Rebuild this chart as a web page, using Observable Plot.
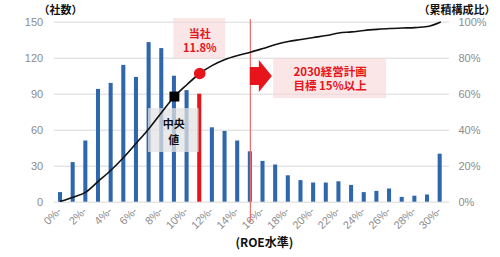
<!DOCTYPE html>
<html><head><meta charset="utf-8">
<script src="https://cdn.jsdelivr.net/npm/d3@7"></script>
<script src="https://cdn.jsdelivr.net/npm/@observablehq/plot@0.6"></script>
<style>
html,body{margin:0;padding:0;background:#fff;overflow:hidden}
svg{display:block}
</style></head><body><div id="chart"></div>
<script>
// ---- data ----
const categories = ["0%-","1%-","2%-","3%-","4%-","5%-","6%-","7%-","8%-","9%-","10%-","11%-","12%-","13%-","14%-","15%-","16%-","17%-","18%-","19%-","20%-","21%-","22%-","23%-","24%-","25%-","26%-","27%-","28%-","29%-","30%-"];
const counts = [8,33,51,94,99,114,104,133,128,105,93,90,62,59,51,42,34,31,22,18,16,16,17,14,8,9,11,4,5,6,40];
const cumulativePct = [0.5,2.8,5.6,11.7,17.9,25,32.9,41,50,58.7,65.4,71.5,76,79.3,81.5,83.3,85.4,87.6,89.3,90.4,91.5,92.6,94,94.6,95.4,96,96.5,96.8,97,97.6,100];
const leftTicks = [0,30,60,90,120,150];
const rightTicks = [0,20,40,60,80,100];
const xTickCategories = ["0%-","2%-","4%-","6%-","8%-","10%-","12%-","14%-","16%-","18%-","20%-","22%-","24%-","26%-","28%-","30%-"];
const highlightCategory = "11%-";   // 当社 11.8%
const medianCategory = "9%-";
const targetCategory = "15%-";
const companyLabel = ["当社","11.8%"];
const targetLabel = ["2030経営計画","目標 15%以上"];
const medianLabel = ["中央","値"];
const leftTitle = "（社数）";
const rightTitle = "（累積構成比）";
const xTitle = "(ROE水準)";

// ---- chart ----
const blue = "#2f67ad", red = "#e8141b";
const idx = d3.range(categories.length);
const hi = categories.indexOf(highlightCategory);
const med = categories.indexOf(medianCategory);
const tgt = categories.indexOf(targetCategory);
const k = 150 / 100; // percent -> left axis units
const cjk = "'Noto Sans CJK JP', sans-serif";

const arrow = (index, scales) => {
  const x0 = scales.x(tgt), yc = scales.y(104.75);
  const p = `M${x0},${yc-9}L${x0+9},${yc-9}L${x0+9},${yc-16}L${x0+22},${yc}L${x0+9},${yc+16}L${x0+9},${yc+9}L${x0},${yc+9}Z`;
  return d3.create("svg:path").attr("d", p).attr("fill", red).node();
};

const chart = Plot.plot({
  width: 500, height: 257,
  marginLeft: 53.7, marginRight: 54, marginTop: 21.7, marginBottom: 55.3,
  style: {fontFamily: "'Liberation Sans', Arial, sans-serif", fontSize: "11px", background: "white", overflow: "visible"},
  x: {domain: [-0.5, categories.length - 0.5]},
  y: {domain: [0, 150]},
  marks: [
    Plot.ruleY(leftTicks, {stroke: "#d9d9d9", strokeWidth: 1, insetRight: -3}),
    Plot.axisY(leftTicks, {anchor: "left", tickSize: 0, tickPadding: 11, fill: "#8c8c8c", fontSize: 11, label: null}),
    Plot.axisY(leftTicks, {anchor: "right", tickSize: 0, tickPadding: 12, fill: "#8c8c8c", fontSize: 11, label: null, tickFormat: d => Math.round(d / k) + "%"}),
    Plot.axisX(xTickCategories.map(c => categories.indexOf(c)), {tickSize: 0, tickPadding: 3, dy: 4, dx: -1, tickRotate: -45, fill: "#8c8c8c", fontSize: 11, label: null, tickFormat: i => categories[i]}),
    Plot.rect(idx.filter(i => i !== hi), {x1: i => i - 0.16, x2: i => i + 0.16, y1: 0, y2: i => counts[i], fill: blue}),
    Plot.rect([hi], {x1: i => i - 0.16, x2: i => i + 0.16, y1: 0, y2: i => counts[i], fill: red}),
    Plot.ruleX([tgt], {y1: -17, y2: 152, stroke: "#f06a6a", strokeWidth: 1.2}),
    // annotation boxes
    Plot.rect([hi], {x1: i => i - 2.05, x2: i => i + 2.05, y1: 119.7, y2: 153, fill: "#f7d6d6", fillOpacity: 0.6}),
    Plot.rect([tgt], {x1: i => i + 1.84, x2: i => i + 10.77, y1: 86.4, y2: 119.75, fill: "#f7d6d6", fillOpacity: 0.6}),
    Plot.rect([med], {x1: i => i - 2.05, x2: i => i + 1.95, y1: 41.4, y2: 78, fill: "#e3e3e3", fillOpacity: 0.75}),
    arrow,
    Plot.line(idx, {x: i => i, y: i => cumulativePct[i] * k, stroke: "#111", strokeWidth: 1.6, curve: "monotone-x"}),
    Plot.dot([med], {x: i => i, y: i => cumulativePct[i] * k, symbol: "square", r: 5.6, fill: "#000"}),
    Plot.dot([hi], {x: i => i, y: i => cumulativePct[i] * k, r: 5.8, fill: red}),
    Plot.text([hi], {x: i => i, y: 135, text: () => companyLabel.join("\n"), fill: red, fontWeight: "bold", fontSize: 11, lineHeight: 1.36, fontFamily: cjk}),
    Plot.text([tgt], {x: i => i + 6.3, y: 103, text: () => targetLabel.join("\n"), fill: red, fontWeight: "bold", fontSize: 11.5, lineHeight: 1.25, fontFamily: cjk}),
    Plot.text([med], {x: i => i - 0.05, y: 59.75, text: () => medianLabel.join("\n"), fill: "#111", fontWeight: "bold", fontSize: 11, lineHeight: 1.45, fontFamily: cjk}),
    // titles
    Plot.text([leftTitle], {frameAnchor: "top-left", dx: -15.7, dy: -16.2, text: d => d, fontWeight: "bold", fontSize: 11, fill: "#111", fontFamily: cjk}),
    Plot.text([rightTitle], {frameAnchor: "top-right", dx: -28, dy: -16.2, text: d => d, textAnchor: "start", fontWeight: "bold", fontSize: 11, fill: "#111", fontFamily: cjk}),
    Plot.text([xTitle], {frameAnchor: "bottom", dx: 14, dy: 45, text: d => d, fontWeight: "bold", fontSize: 12, fill: "#111", fontFamily: cjk})
  ]
});
document.getElementById("chart").appendChild(chart);
</script>
</body></html>
